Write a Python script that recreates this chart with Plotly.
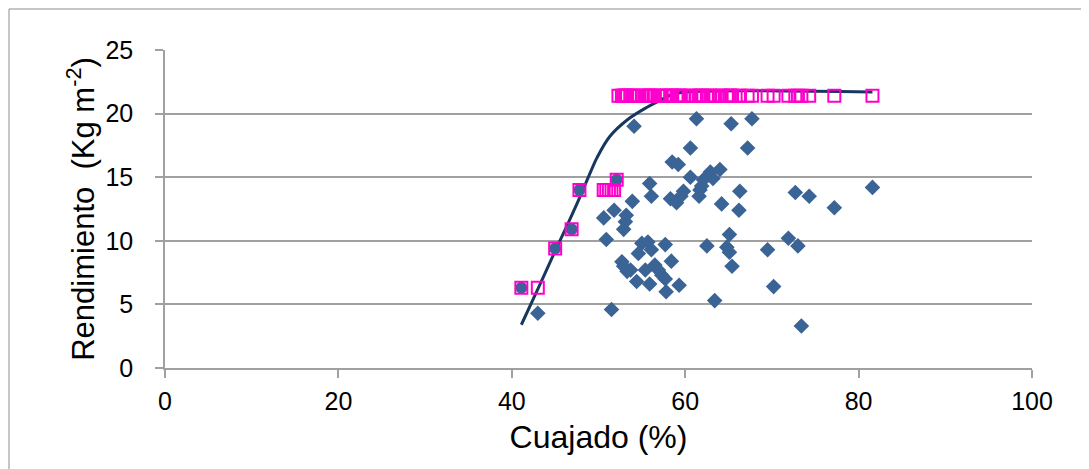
import plotly.graph_objects as go

# Observed yield (diamonds)
obs_x = [43.0, 51.5, 54.1, 61.3, 65.3, 67.7, 60.6, 67.2, 58.5, 59.2, 60.6, 62.9, 64.0,
         62.1, 63.2, 61.7, 61.9, 61.6, 58.3, 59.0, 59.5, 59.8, 55.9, 56.1, 53.9, 66.3,
         64.2, 66.2, 51.8, 50.6, 53.2, 53.1, 52.9, 50.9, 55.0, 55.7, 56.1, 54.6, 57.7,
         65.1, 62.5, 64.8, 65.1, 69.5, 58.4, 52.7, 52.9, 53.3, 53.7, 55.4, 56.5, 56.9,
         57.3, 57.7, 54.4, 55.9, 57.8, 59.3, 65.4, 70.2, 63.4, 72.7, 74.3, 77.2, 81.6,
         71.9, 73.0, 73.4]
obs_y = [4.3, 4.6, 19.0, 19.6, 19.2, 19.6, 17.3, 17.3, 16.2, 16.0, 15.0, 15.4, 15.6,
         14.8, 14.9, 14.0, 14.3, 13.5, 13.3, 13.0, 13.5, 13.9, 14.5, 13.5, 13.1, 13.9,
         12.9, 12.4, 12.4, 11.8, 12.0, 11.5, 10.9, 10.1, 9.8, 9.9, 9.3, 9.0, 9.7,
         10.5, 9.6, 9.5, 9.1, 9.3, 8.4, 8.35, 8.0, 7.6, 7.7, 7.7, 8.1, 7.7,
         7.3, 7.0, 6.8, 6.6, 6.0, 6.5, 8.0, 6.4, 5.3, 13.8, 13.5, 12.6, 14.2,
         10.2, 9.6, 3.3]

# Boundary points (circles)
bnd_x = [41.1, 45.0, 46.9, 47.8, 52.1]
bnd_y = [6.3, 9.4, 10.9, 14.0, 14.8]

# Model points (open squares)
sq_x = [41.1, 43.0, 45.0, 46.9, 47.8, 50.6, 50.9, 51.2, 51.5, 51.8, 52.1,
        52.3, 52.7, 52.9, 52.9, 53.1, 53.2, 53.3, 53.7, 53.9, 54.1, 54.4, 54.6, 55.0,
        55.4, 55.7, 55.9, 55.9, 56.1, 56.1, 56.5, 56.9, 57.3, 57.7, 57.7, 57.8, 58.3,
        58.4, 58.5, 59.0, 59.2, 59.3, 59.5, 59.8, 60.6, 60.6, 61.3, 61.6, 61.7, 61.9,
        62.1, 62.5, 62.9, 63.2, 63.4, 64.0, 64.2, 64.8, 65.1, 65.1, 65.3, 65.4, 66.2,
        66.3, 67.2, 67.7, 69.5, 70.2, 71.9, 72.7, 73.0, 73.4, 74.3, 77.2, 81.6]
sq_y = [6.3, 6.3, 9.4, 10.9, 14.0, 14.0, 14.0, 14.0, 14.0, 14.0, 14.8] + [21.4] * 64

# Fitted curve
fit_x = [41.1, 43.0, 45.0, 46.1, 47.7, 49.2, 49.8, 51.3, 53.3, 55.6, 57.0, 58.5, 60.0, 81.6]
fit_y = [3.4, 6.2, 9.2, 10.8, 13.2, 15.6, 16.5, 18.2, 19.5, 20.5, 21.0, 21.5, 21.7, 21.7]

x_ticks = [0, 20, 40, 60, 80, 100]
y_ticks = [0, 5, 10, 15, 20, 25]

fig = go.Figure()
fig.add_trace(go.Scatter(x=obs_x, y=obs_y, mode="markers",
                         marker=dict(symbol="diamond", size=12, color="#3A6496")))
fig.add_trace(go.Scatter(x=fit_x, y=fit_y, mode="lines", line_shape="spline",
                         line=dict(color="#17375E", width=3)))
fig.add_trace(go.Scatter(x=bnd_x, y=bnd_y, mode="markers",
                         marker=dict(symbol="circle", size=12, color="#3A6496")))
fig.add_trace(go.Scatter(x=sq_x, y=sq_y, mode="markers",
                         marker=dict(symbol="square-open", size=12, color="#FF00CC",
                                     line=dict(width=2, color="#FF00CC"))))

OFF = 8  # page body margin
W, H = 1089 - OFF, 469 - OFF
PL, PR, PT, PB = 165, 1032, 50, 368  # plot area in page pixels
L, T = PL - OFF, PT - OFF
R = W - (PR - OFF)
B = H - (PB - OFF)
pw, ph = PR - PL, PB - PT


def px(x):
    return (x - PL) / pw


def py(y):
    return (PB - y) / ph


fig.add_shape(type="rect", xref="paper", yref="paper",
              x0=px(9), x1=px(1082), y0=py(490), y1=py(9),
              line=dict(color="#8C8C8C", width=1), fillcolor="rgba(0,0,0,0)", layer="below")

fig.update_layout(
    width=W, height=H, showlegend=False,
    margin=dict(l=L, r=R, t=T, b=B, autoexpand=False),
    paper_bgcolor="white", plot_bgcolor="white",
    font=dict(family="Liberation Sans, Arial, sans-serif", color="#000000"),
)
fig.update_xaxes(range=[0, 100], tickvals=x_ticks, showgrid=False, zeroline=False,
                 showline=True, linecolor="#A0A0A0", linewidth=1.5,
                 ticks="outside", ticklen=8, tickcolor="#A0A0A0", tickwidth=1.5,
                 tickfont=dict(size=25), ticklabelstandoff=2,
                 title=dict(text="Cuajado (%)", font=dict(size=32), standoff=12))
fig.update_yaxes(range=[0, 25], tickvals=y_ticks, showgrid=True, gridcolor="#A0A0A0",
                 gridwidth=1.5, zeroline=False,
                 showline=True, linecolor="#A0A0A0", linewidth=1.5,
                 ticks="outside", ticklen=8, tickcolor="#A0A0A0", tickwidth=1.5,
                 tickfont=dict(size=25), ticklabelstandoff=17,
                 title=dict(text="Rendimiento  (Kg m<sup>-2</sup>)", font=dict(size=31), standoff=2))

fig.write_html("out.html")
